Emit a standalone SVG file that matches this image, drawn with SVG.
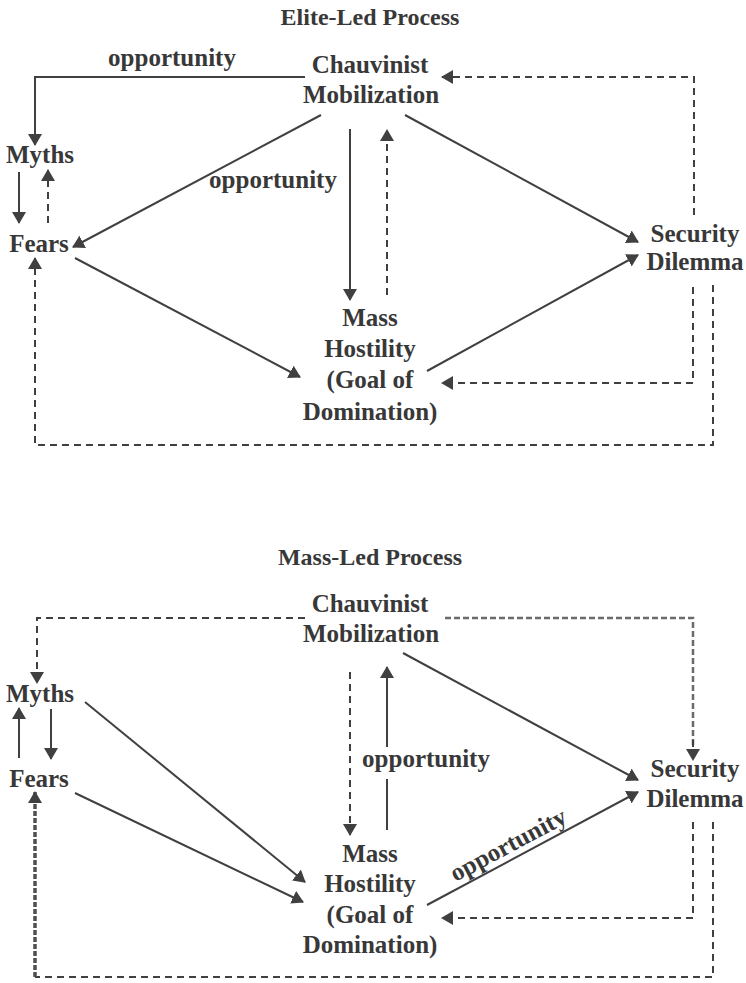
<svg xmlns="http://www.w3.org/2000/svg" width="746" height="983" viewBox="0 0 746 983">
<style>
text{font-family:"Liberation Serif","Times New Roman",serif;font-weight:bold;font-size:25px;fill:#383838;text-anchor:middle}
.t{font-size:24px}
.s{fill:none;stroke:#404040;stroke-width:2}
.d{fill:none;stroke:#404040;stroke-width:2;stroke-dasharray:7 5}
.dl{fill:none;stroke:#6a6a6a;stroke-width:2.5;stroke-dasharray:6 3}
.dh{fill:none;stroke:#505050;stroke-width:3.5;stroke-dasharray:5 2}
.a{marker-end:url(#ah)}
</style>
<defs>
<marker id="ah" viewBox="0 0 12 14" refX="11" refY="7" markerWidth="12" markerHeight="14" orient="auto" markerUnits="userSpaceOnUse">
<path d="M0,0 L12,7 L0,14 z" fill="#404040"/>
</marker>
</defs>
<rect width="746" height="983" fill="#fff"/>

<!-- Top diagram -->
<text class="t" x="370" y="25">Elite-Led Process</text>
<g id="e-opp-label"><text x="172" y="66">opportunity</text></g>
<g id="e-chauvinist"><text x="370" y="73">Chauvinist</text><text x="371" y="103">Mobilization</text></g>
<g id="e-myths"><text x="40" y="163">Myths</text></g>
<g id="e-fears"><text x="39" y="252">Fears</text></g>
<g id="e-opp-label2"><text x="273" y="188">opportunity</text></g>
<g id="e-security"><text x="695" y="242">Security</text><text x="695" y="270">Dilemma</text></g>
<g id="e-mass"><text x="370" y="326">Mass</text><text x="370" y="357">Hostility</text><text x="370" y="388">(Goal of</text><text x="370" y="420">Domination)</text></g>

<g id="e-connectors">
<polyline class="s a" points="305,77 35,77 35,145"/>
<polyline class="d a" points="694,215 694,77 442,77"/>
<line class="s a" x1="19" y1="172" x2="19" y2="223"/>
<line class="d a" x1="48" y1="223" x2="48" y2="170"/>
<line class="s a" x1="321" y1="115" x2="73" y2="247"/>
<line class="s a" x1="350" y1="129" x2="350" y2="300"/>
<line class="d a" x1="387" y1="295" x2="387" y2="130"/>
<line class="s a" x1="405" y1="115" x2="638" y2="242"/>
<line class="s a" x1="75" y1="258" x2="300" y2="377"/>
<line class="s a" x1="427" y1="371" x2="638" y2="255"/>
<polyline class="d a" points="693,287 693,383 442,383"/>
<polyline class="d a" points="713,285 713,445 35,445 35,258"/>
</g>

<!-- Bottom diagram -->
<text class="t" x="370" y="565">Mass-Led Process</text>
<g id="m-chauvinist"><text x="370" y="612">Chauvinist</text><text x="371" y="642">Mobilization</text></g>
<g id="m-myths"><text x="40" y="702">Myths</text></g>
<g id="m-fears"><text x="39" y="787">Fears</text></g>
<g id="m-opp-label"><text x="426" y="767">opportunity</text></g>
<g id="m-security"><text x="695" y="777">Security</text><text x="695" y="807">Dilemma</text></g>
<g id="m-mass"><text x="370" y="862">Mass</text><text x="370" y="892">Hostility</text><text x="370" y="923">(Goal of</text><text x="370" y="953">Domination)</text></g>
<g id="m-opp-label2"><text transform="translate(512,852) rotate(-28)" x="0" y="0">opportunity</text></g>

<g id="m-connectors">
<polyline class="d a" points="305,618 37,618 37,683"/>
<polyline class="dl" points="445,618 693,618 693,745"/>
<line class="d a" x1="693" y1="740" x2="693" y2="760"/>
<line class="s a" x1="19" y1="758" x2="19" y2="708"/>
<line class="s a" x1="51" y1="709" x2="51" y2="759"/>
<line class="s a" x1="85" y1="702" x2="305" y2="882"/>
<line class="s a" x1="75" y1="793" x2="303" y2="902"/>
<line class="d a" x1="350" y1="672" x2="350" y2="835"/>
<line class="s a" x1="387" y1="747" x2="387" y2="667"/>
<line class="s" x1="387" y1="779" x2="387" y2="830"/>
<line class="s a" x1="403" y1="653" x2="638" y2="780"/>
<line class="s a" x1="427" y1="905" x2="638" y2="792"/>
<polyline class="d a" points="693,822 693,918 442,918"/>
<polyline class="d" points="713,822 713,977 35,977"/>
<line class="dh a" x1="35" y1="977" x2="35" y2="792"/>
</g>
</svg>
